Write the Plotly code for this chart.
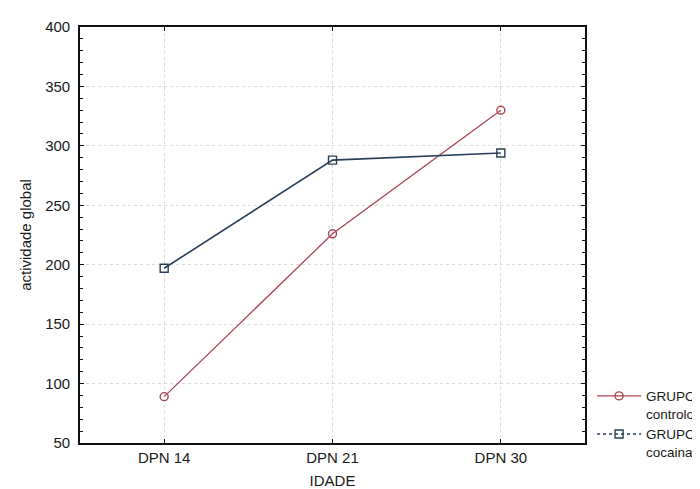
import plotly.graph_objects as go

categories = ["DPN 14", "DPN 21", "DPN 30"]
controlo = [89, 226, 330]
cocaina = [197, 288, 294]
y_ticks = [50, 100, 150, 200, 250, 300, 350, 400]

RED = "#aa4555"
BLUE = "#2a4058"
FONT = "Liberation Sans, Arial"

fig = go.Figure()
fig.add_trace(go.Scatter(
    x=[0, 1, 2], y=controlo, mode="lines+markers", name="GRUPO:<br>controlo",
    line=dict(color=RED, width=1.3),
    marker=dict(symbol="circle-open", size=8, color=RED, line=dict(width=1.4)),
))
fig.add_trace(go.Scatter(
    x=[0, 1, 2], y=cocaina, mode="lines+markers", name="GRUPO:<br>cocaina",
    line=dict(color=BLUE, width=1.6), showlegend=False,
    marker=dict(symbol="square-open", size=8, color=BLUE, line=dict(width=1.4)),
))
# legend entry for cocaina (dashed symbol, as in the original legend)
fig.add_trace(go.Scatter(
    x=[None], y=[None], mode="lines+markers", name="GRUPO:<br>cocaina",
    line=dict(color=BLUE, width=1.3, dash="3px,3px"),
    marker=dict(symbol="square-open", size=8, color=BLUE, line=dict(width=1.4)),
))

font = dict(family=FONT, size=15, color="#1a1a1a")
legend_font = dict(family=FONT, size=13.5, color="#1a1a1a")
axis_common = dict(
    showgrid=True, gridcolor="#dadada", griddash="dot", gridwidth=1,
    showline=True, linecolor="#111", linewidth=1.6, mirror="allticks",
    ticks="inside", ticklen=4, tickcolor="#111", tickwidth=1, zeroline=False,
    tickfont=font,
)
fig.update_layout(
    width=700, height=489,
    margin=dict(l=72, r=123, t=19, b=54, autoexpand=False),
    paper_bgcolor="white", plot_bgcolor="white",
    font=font,
    showlegend=True,
    legend=dict(x=1.014, y=0.15, xanchor="left", yanchor="top", valign="top",
                font=legend_font, itemwidth=44, bgcolor="rgba(0,0,0,0)"),
    xaxis=dict(
        range=[-0.5, 2.5], tickmode="array", tickvals=[0, 1, 2], ticktext=categories,
        title=dict(text="IDADE", font=font, standoff=11),
        **axis_common,
    ),
    yaxis=dict(
        range=[50, 400], tickmode="array", tickvals=y_ticks, ticklabelstandoff=5,
        minor=dict(dtick=10, ticks="inside", ticklen=3, tickcolor="#111", showgrid=False),
        title=dict(text="actividade global", font=font, standoff=10),
        **axis_common,
    ),
)

fig.write_html("out.html")
